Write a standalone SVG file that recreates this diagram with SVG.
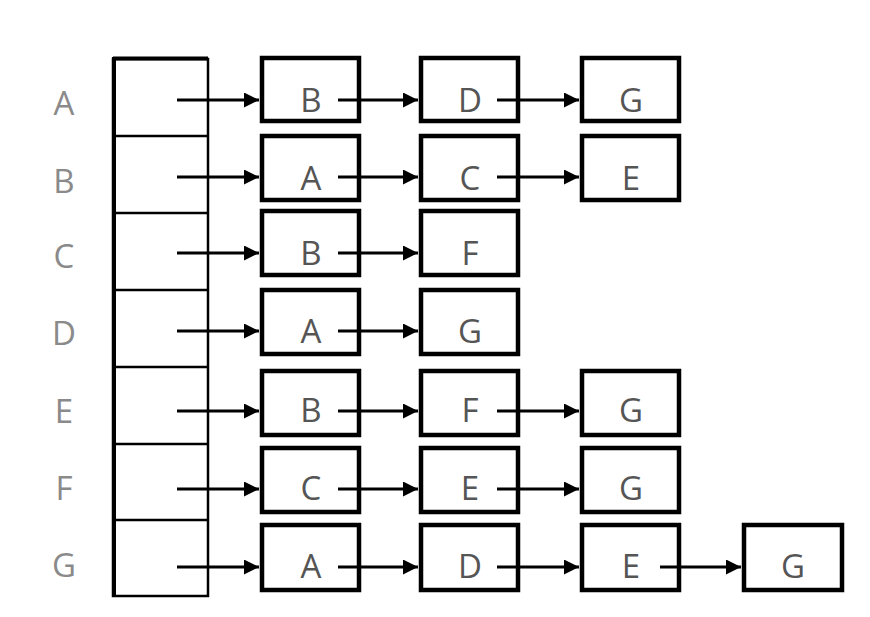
<svg xmlns="http://www.w3.org/2000/svg" width="870" height="617" viewBox="0 0 870 617">
<style>
.lbl{font-family:"Open Sans","Liberation Sans",sans-serif;font-size:33px;fill:#8a8a8a;text-anchor:middle}
.txt{font-family:"Open Sans","Liberation Sans",sans-serif;font-size:33px;fill:#555;text-anchor:middle}
.box{fill:none;stroke:#000;stroke-width:4.5}
.cell{fill:none;stroke:#000;stroke-width:2.5}
.edge{stroke:#000;stroke-width:3;fill:none;marker-end:url(#ah)}
</style>
<defs>
<marker id="ah" viewBox="0 0 10 10" refX="10" refY="5" markerWidth="5" markerHeight="5" markerUnits="strokeWidth" orient="auto">
<path d="M0,0 L10,5 L0,10 z" fill="#000"/>
</marker>
</defs>
<rect width="870" height="617" fill="#fff"/>
<g id="labels">
<text class="lbl" x="64" y="115">A</text>
<text class="lbl" x="64" y="193">B</text>
<text class="lbl" x="64" y="268">C</text>
<text class="lbl" x="64" y="345">D</text>
<text class="lbl" x="64" y="423">E</text>
<text class="lbl" x="64" y="500">F</text>
<text class="lbl" x="64" y="577">G</text>
</g>
<g id="array">
<rect class="cell" x="113" y="59" width="95" height="537"/>
<line x1="113" y1="58.5" x2="208" y2="58.5" stroke="#000" stroke-width="4"/>
<line x1="114" y1="57" x2="114" y2="597" stroke="#000" stroke-width="4"/>
<line x1="113" y1="136" x2="208" y2="136" stroke="#000" stroke-width="2.5"/>
<line x1="113" y1="213" x2="208" y2="213" stroke="#000" stroke-width="2.5"/>
<line x1="113" y1="290" x2="208" y2="290" stroke="#000" stroke-width="2.5"/>
<line x1="113" y1="367" x2="208" y2="367" stroke="#000" stroke-width="2.5"/>
<line x1="113" y1="444" x2="208" y2="444" stroke="#000" stroke-width="2.5"/>
<line x1="113" y1="520" x2="208" y2="520" stroke="#000" stroke-width="2.5"/>
</g>
<g id="row-A">
<g id="A1"><rect class="box" x="262" y="58" width="97" height="63"/><text class="txt" x="311" y="112">B</text></g>
<g id="A2"><rect class="box" x="421" y="58" width="97" height="63"/><text class="txt" x="470" y="112">D</text></g>
<g id="A3"><rect class="box" x="582" y="58" width="97" height="63"/><text class="txt" x="631" y="112">G</text></g>
</g>
<g id="row-B">
<g id="B1"><rect class="box" x="262" y="136" width="97" height="64"/><text class="txt" x="311" y="190">A</text></g>
<g id="B2"><rect class="box" x="421" y="136" width="97" height="64"/><text class="txt" x="470" y="190">C</text></g>
<g id="B3"><rect class="box" x="582" y="136" width="97" height="64"/><text class="txt" x="631" y="190">E</text></g>
</g>
<g id="row-C">
<g id="C1"><rect class="box" x="262" y="211" width="97" height="64"/><text class="txt" x="311" y="265">B</text></g>
<g id="C2"><rect class="box" x="421" y="211" width="97" height="64"/><text class="txt" x="470" y="265">F</text></g>
</g>
<g id="row-D">
<g id="D1"><rect class="box" x="262" y="290" width="97" height="64"/><text class="txt" x="311" y="343">A</text></g>
<g id="D2"><rect class="box" x="421" y="290" width="97" height="64"/><text class="txt" x="470" y="343">G</text></g>
</g>
<g id="row-E">
<g id="E1"><rect class="box" x="262" y="371" width="97" height="64"/><text class="txt" x="311" y="422">B</text></g>
<g id="E2"><rect class="box" x="421" y="371" width="97" height="64"/><text class="txt" x="470" y="422">F</text></g>
<g id="E3"><rect class="box" x="582" y="371" width="97" height="64"/><text class="txt" x="631" y="422">G</text></g>
</g>
<g id="row-F">
<g id="F1"><rect class="box" x="262" y="448" width="97" height="64"/><text class="txt" x="311" y="500">C</text></g>
<g id="F2"><rect class="box" x="421" y="448" width="97" height="64"/><text class="txt" x="470" y="500">E</text></g>
<g id="F3"><rect class="box" x="582" y="448" width="97" height="64"/><text class="txt" x="631" y="500">G</text></g>
</g>
<g id="row-G">
<g id="G1"><rect class="box" x="262" y="525" width="97" height="65"/><text class="txt" x="311" y="578">A</text></g>
<g id="G2"><rect class="box" x="421" y="525" width="97" height="65"/><text class="txt" x="470" y="578">D</text></g>
<g id="G3"><rect class="box" x="582" y="525" width="97" height="65"/><text class="txt" x="631" y="578">E</text></g>
<g id="G4"><rect class="box" x="744" y="525" width="98" height="65"/><text class="txt" x="793" y="578">G</text></g>
</g>
<g id="connectors">
<line class="edge" x1="177" y1="100" x2="259" y2="100"/>
<line class="edge" x1="338" y1="100" x2="418" y2="100"/>
<line class="edge" x1="497" y1="100" x2="579" y2="100"/>
<line class="edge" x1="177" y1="177" x2="259" y2="177"/>
<line class="edge" x1="338" y1="177" x2="418" y2="177"/>
<line class="edge" x1="497" y1="177" x2="579" y2="177"/>
<line class="edge" x1="177" y1="253" x2="259" y2="253"/>
<line class="edge" x1="338" y1="253" x2="418" y2="253"/>
<line class="edge" x1="177" y1="331" x2="259" y2="331"/>
<line class="edge" x1="338" y1="331" x2="418" y2="331"/>
<line class="edge" x1="177" y1="411" x2="259" y2="411"/>
<line class="edge" x1="338" y1="411" x2="418" y2="411"/>
<line class="edge" x1="497" y1="411" x2="579" y2="411"/>
<line class="edge" x1="177" y1="489" x2="259" y2="489"/>
<line class="edge" x1="338" y1="489" x2="418" y2="489"/>
<line class="edge" x1="497" y1="489" x2="579" y2="489"/>
<line class="edge" x1="177" y1="567" x2="259" y2="567"/>
<line class="edge" x1="338" y1="567" x2="418" y2="567"/>
<line class="edge" x1="497" y1="567" x2="579" y2="567"/>
<line class="edge" x1="660" y1="567" x2="741" y2="567"/>
</g>
</svg>
